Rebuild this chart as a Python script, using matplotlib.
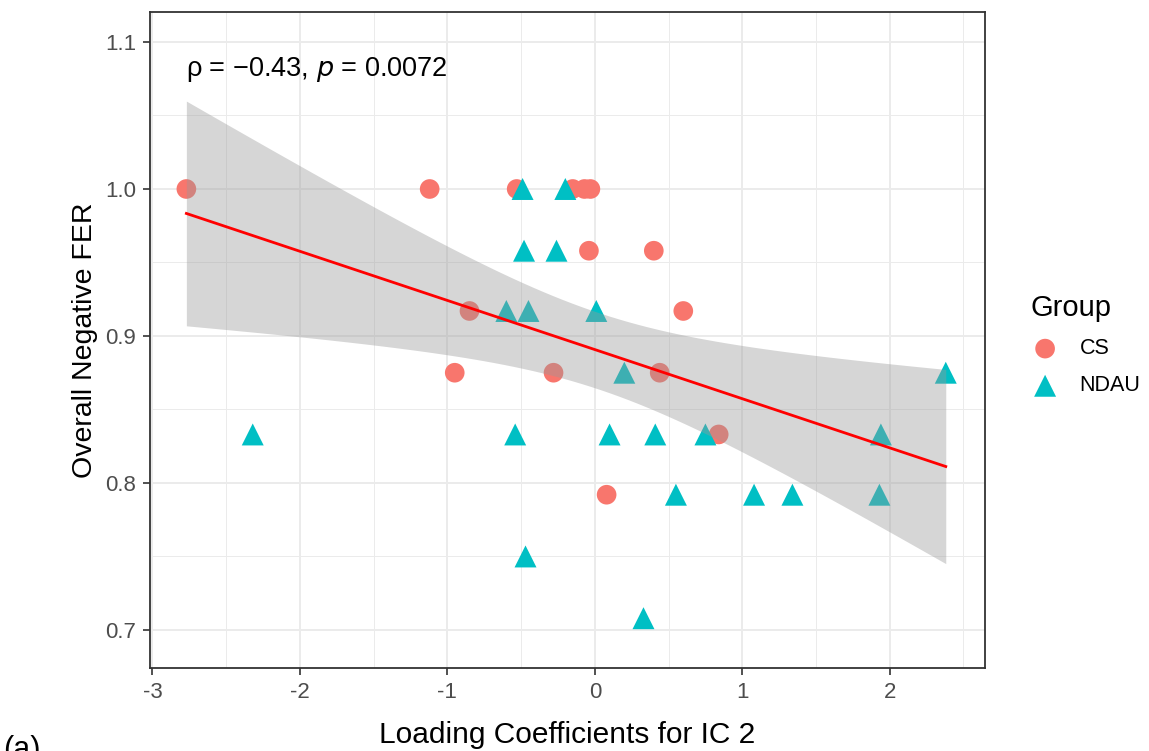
import numpy as np
import matplotlib
matplotlib.use("Agg")
import matplotlib.pyplot as plt
from matplotlib.ticker import MultipleLocator

plt.rcParams['font.family'] = ['Liberation Sans', 'DejaVu Sans']

# Loading coefficients (IC 2) and overall negative FER per participant
cs_x = [-2.77, -1.12, -0.53, -0.15, -0.07, -0.03, -0.04, 0.40, -0.85, 0.60,
        -0.95, -0.28, 0.44, 0.84, 0.08]
cs_y = [1.000, 1.000, 1.000, 1.000, 1.000, 1.000, 0.958, 0.958, 0.917, 0.917,
        0.875, 0.875, 0.875, 0.833, 0.792]

ndau_x = [-2.32, -0.49, -0.20, -0.48, -0.26, -0.60, -0.45, 0.01, 0.20, 2.38,
          -0.54, 0.10, 0.41, 0.75, 1.94, 0.55, 1.08, 1.34, 1.93, -0.47, 0.33]
ndau_y = [0.833, 1.000, 1.000, 0.958, 0.958, 0.917, 0.917, 0.917, 0.875, 0.875,
          0.833, 0.833, 0.833, 0.833, 0.833, 0.792, 0.792, 0.792, 0.792, 0.750,
          0.708]

x_ticks = [-3, -2, -1, 0, 1, 2]
y_ticks = [0.7, 0.8, 0.9, 1.0, 1.1]
annotation = r"ρ = −0.43, $\it{p}$ = 0.0072"

CS_COL = "#F8766D"
NDAU_COL = "#00BFC4"

fig = plt.figure(figsize=(11.49, 7.51), dpi=100)
ax = fig.add_axes([0.1305, 0.1105, 0.7265, 0.8735])

# points
ax.scatter(cs_x, cs_y, s=200, marker='o', color=CS_COL, edgecolors='none',
           zorder=3, label="CS")
ax.scatter(ndau_x, ndau_y, s=250, marker='^', color=NDAU_COL, edgecolors='none',
           zorder=3, label="NDAU")

# linear fit with 95% confidence band over pooled data
X = np.array(cs_x + ndau_x)
Y = np.array(cs_y + ndau_y)
n = len(X)
slope, intercept = np.polyfit(X, Y, 1)
xs = np.linspace(X.min(), X.max(), 80)
ys = intercept + slope * xs
resid = Y - (intercept + slope * X)
s_err = np.sqrt(np.sum(resid ** 2) / (n - 2))
t_val = 2.0211  # t(0.975, df=39)
se_fit = s_err * np.sqrt(1 / n + (xs - X.mean()) ** 2 / np.sum((X - X.mean()) ** 2))
ax.fill_between(xs, ys - t_val * se_fit, ys + t_val * se_fit,
                color="#999999", alpha=0.4, linewidth=0, zorder=4)
ax.plot(xs, ys, color="red", linewidth=2.0, zorder=5)

ax.text(-2.77, 1.081, annotation, fontsize=19.5, ha='left', va='center',
        color='black', zorder=6)

# axes styling (bw theme)
ax.set_xlim(-3.017, 2.644)
ax.set_ylim(0.6741, 1.1204)
ax.set_xticks(x_ticks)
ax.set_xticklabels([str(t) for t in x_ticks])
ax.set_yticks(y_ticks)
ax.set_yticklabels([f"{t:.1f}" for t in y_ticks])
ax.xaxis.set_minor_locator(MultipleLocator(0.5))
ax.yaxis.set_minor_locator(MultipleLocator(0.05))
ax.grid(which='major', color='#EBEBEB', linewidth=1.4, zorder=0)
ax.grid(which='minor', color='#EBEBEB', linewidth=0.7, zorder=0)
ax.set_axisbelow(True)
ax.tick_params(which='major', direction='out', length=5, width=1.2,
               color='#333333', labelsize=16, labelcolor='#4D4D4D', pad=5)
ax.tick_params(which='minor', length=0)
for sp in ax.spines.values():
    sp.set_color('#333333')
    sp.set_linewidth(1.3)

ax.set_xlabel("Loading Coefficients for IC 2", fontsize=21.5, labelpad=13)
ax.set_ylabel("Overall Negative FER", fontsize=20.5, labelpad=5)

leg = ax.legend(loc='center left', bbox_to_anchor=(1.044, 0.492), frameon=False,
                title="Group", fontsize=15.5, title_fontsize=21,
                handletextpad=0.9, labelspacing=0.75, borderaxespad=0.0,
                handlelength=1.4)
leg._legend_box.align = "left"

fig.text(0.003, -0.018, "(a)", fontsize=22, ha='left', va='bottom')

fig.savefig("out.png", dpi=100)
